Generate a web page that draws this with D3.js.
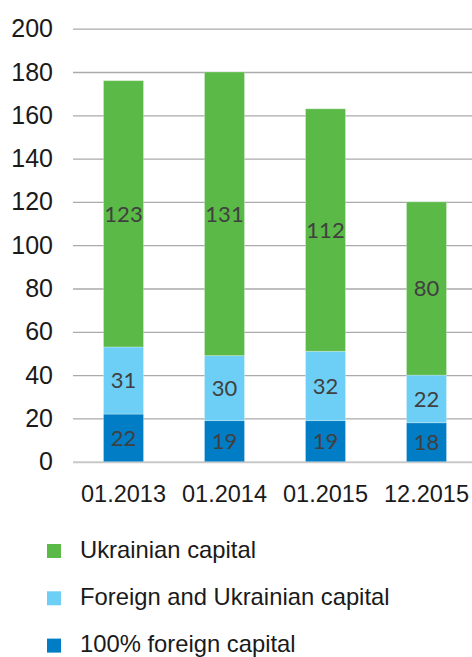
<!DOCTYPE html>
<html>
<head>
<meta charset="utf-8">
<script src="https://cdn.jsdelivr.net/npm/d3@7"></script>
<style>
  html, body { margin: 0; padding: 0; background: #fff; }
  svg { display: block; }
  .axis text { font-family: "Liberation Sans", Arial, sans-serif; fill: #1a1a1a; }
  .bar-values { font-family: Lato, "Open Sans", sans-serif; font-size: 22px; fill: #404040; }
  .legend text { font-family: "Liberation Sans", Arial, sans-serif; font-size: 23.8px; fill: #1a1a1a; }
</style>
</head>
<body>
<svg id="chart" width="472" height="657"></svg>
<script>
// chart data
var categories = ['01.2013', '01.2014', '01.2015', '12.2015'];
var foreign100 = [22, 19, 19, 18];
var foreignUkr = [31, 30, 32, 22];
var ukrainian = [123, 131, 112, 80];
var yTicks = [0, 20, 40, 60, 80, 100, 120, 140, 160, 180, 200];
var seriesNames = ['Ukrainian capital', 'Foreign and Ukrainian capital', '100% foreign capital'];

var colors = {
    'ukrainian': '#5bb947',
    'foreignUkr': '#6dcff6',
    'foreign100': '#007dc5'
};

var svg = d3.select('#chart');

var x = d3.scaleBand()
    .domain(categories)
    .range([73, 477]);

var y = d3.scaleLinear()
    .domain([0, 200])
    .range([461.7, 28.7]);

var barWidth = 40;

// gridlines + y labels
var yAxis = svg.append('g')
    .attr('class', 'axis y-axis')
    .attr('transform', 'translate(73,0)')
    .call(d3.axisLeft(y).tickValues(yTicks).tickSize(-400).tickPadding(20));

yAxis.select('.domain').remove();
yAxis.selectAll('line')
    .attr('stroke', function(d){ return d === 0 ? '#c8c8c8' : '#aaaaaa'; })
    .attr('stroke-width', function(d){ return d === 0 ? 2 : 1.3; });
yAxis.selectAll('text').style('font-size', '25px');

// stack the three series (bottom to top)
var rows = categories.map(function(c, i){
    return { cat: c, foreign100: foreign100[i], foreignUkr: foreignUkr[i], ukrainian: ukrainian[i] };
});
var stack = d3.stack().keys(['foreign100', 'foreignUkr', 'ukrainian']);
var layers = stack(rows);

var groups = svg.append('g').attr('class', 'bars')
    .selectAll('g')
    .data(layers)
    .enter().append('g')
    .attr('fill', function(d){ return colors[d.key]; });

groups.selectAll('rect')
    .data(function(d){ return d; })
    .enter().append('rect')
    .attr('x', function(d){ return x(d.data.cat) + x.bandwidth() / 2 - barWidth / 2; })
    .attr('y', function(d){ return y(d[1]); })
    .attr('width', barWidth)
    .attr('height', function(d){ return y(d[0]) - y(d[1]); })
    .attr('stroke', '#ffffff')
    .attr('stroke-opacity', 0.25)
    .attr('stroke-width', 1);

groups.selectAll('text')
    .data(function(d){ return d; })
    .enter().append('text')
    .attr('class', 'bar-values')
    .attr('x', function(d){ return x(d.data.cat) + x.bandwidth() / 2; })
    .attr('y', function(d){ return (y(d[0]) + y(d[1])) / 2; })
    .attr('text-anchor', 'middle')
    .attr('dy', '0.36em')
    .text(function(d){ return d[1] - d[0]; });

// x labels
var xAxis = svg.append('g')
    .attr('class', 'axis x-axis')
    .attr('transform', 'translate(0,461.7)')
    .call(d3.axisBottom(x).tickSize(0).tickPadding(24));
xAxis.select('.domain').remove();
xAxis.selectAll('text').style('font-size', '23.5px').attr('dy', '0.71em');

// legend
var legendColors = [colors.ukrainian, colors.foreignUkr, colors.foreign100];
var legend = svg.append('g').attr('class', 'legend')
    .selectAll('g')
    .data(seriesNames)
    .enter().append('g')
    .attr('transform', function(d, i){ return 'translate(47,' + (544 + i * 47.3) + ')'; });

legend.append('rect')
    .attr('width', 14)
    .attr('height', 14)
    .attr('fill', function(d, i){ return legendColors[i]; });

legend.append('text')
    .attr('x', 33)
    .attr('y', 13.5)
    .text(function(d){ return d; });
</script>
</body>
</html>
